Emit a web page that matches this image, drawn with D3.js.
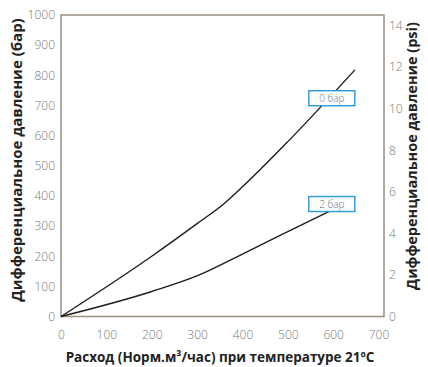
<!DOCTYPE html>
<html><head><meta charset="utf-8">
<script src="https://cdn.jsdelivr.net/npm/d3@7"></script>
<style>
html,body{margin:0;padding:0;background:#fff;}
svg{display:block;font-family:"Open Sans",sans-serif;}
</style></head>
<body><svg id="c" width="428" height="367"></svg>
<script>
const seriesNames = ["0 бар", "2 бар"];
const flow0 = [0, 200, 300, 360, 400, 500, 648];
const dp0   = [0, 200, 308, 375, 430, 580, 818];
const flow2 = [0, 200, 305, 400, 545, 648];
const dp2   = [0, 83, 138, 207, 315, 390];
const xTicks = [0, 100, 200, 300, 400, 500, 600, 700];
const yTicks = [0, 100, 200, 300, 400, 500, 600, 700, 800, 900, 1000];
const psiTicks = [0, 2, 4, 6, 8, 10, 12, 14];
const xTitle = "Расход (Норм.м³/час) при температуре 21ºC";
const yTitle = "Дифференциальное давление (бар)";
const y2Title = "Дифференциальное давление (psi)";

const svg = d3.select("#c");
const L = 61, R = 384, T = 15, B = 316.5;
const x = d3.scaleLinear().domain([0, 712]).range([L, R]);
const y = d3.scaleLinear().domain([0, 1000]).range([B, T]);
const y2 = d3.scaleLinear().domain([0, 1000 / 68.9476]).range([B, T]);
const fmt = d3.format("d");

const tickStyle = g => {
  g.select(".domain").remove();
  g.selectAll("line").remove();
  g.selectAll("text").attr("fill", "#777").style("font-size", "12px")
    .style("font-family", "'Open Sans',sans-serif").style("font-weight", "300");
};
svg.append("g").attr("transform", `translate(0,${B})`)
  .call(d3.axisBottom(x).tickValues(xTicks).tickFormat(fmt).tickSize(0).tickPadding(14)).call(tickStyle);
svg.append("g").attr("transform", `translate(${L},0)`)
  .call(d3.axisLeft(y).tickValues(yTicks).tickFormat(fmt).tickSize(0).tickPadding(6)).call(tickStyle);
svg.append("g").attr("transform", `translate(${R},0)`)
  .call(d3.axisRight(y2).tickValues(psiTicks).tickFormat(fmt).tickSize(0).tickPadding(5)).call(tickStyle);

svg.append("rect").attr("x", L).attr("y", T).attr("width", R - L).attr("height", B - T)
  .attr("fill", "none").attr("stroke", "#9d9487").attr("stroke-width", 1.6);

const line = d3.line().x(d => x(d[0])).y(d => y(d[1])).curve(d3.curveMonotoneX);
const series = [d3.zip(flow0, dp0), d3.zip(flow2, dp2)];
svg.selectAll("path.s").data(series).join("path").attr("class", "s")
  .attr("d", line).attr("fill", "none").attr("stroke", "#1e1e1e").attr("stroke-width", 1.4);

// label boxes (anchored in data units)
const labelAt = [[597, 724], [597, 373]];
seriesNames.forEach((name, i) => {
  const cx = x(labelAt[i][0]), cy = y(labelAt[i][1]);
  svg.append("rect").attr("x", cx - 23).attr("y", cy - 7.5).attr("width", 46).attr("height", 15)
    .attr("fill", "#fff").attr("stroke", "#2b9ad6").attr("stroke-width", 1.4);
  svg.append("text").attr("x", cx).attr("y", cy + 3.5).attr("text-anchor", "middle")
    .attr("fill", "#707070").style("font-size", "10px").style("font-weight", "300").text(name);
});

svg.append("text").attr("x", 220).attr("y", 362).attr("text-anchor", "middle")
  .attr("fill", "#222").style("font-size", "13.5px").style("font-weight", "700").text(xTitle);
svg.append("text").attr("transform", "translate(22,160) rotate(-90)").attr("text-anchor", "middle")
  .attr("fill", "#222").style("font-size", "15px").style("font-weight", "700").text(yTitle);
svg.append("text").attr("transform", "translate(417,156) rotate(-90)").attr("text-anchor", "middle")
  .attr("fill", "#222").style("font-size", "14.5px").style("font-weight", "700").text(y2Title);
</script></body></html>
